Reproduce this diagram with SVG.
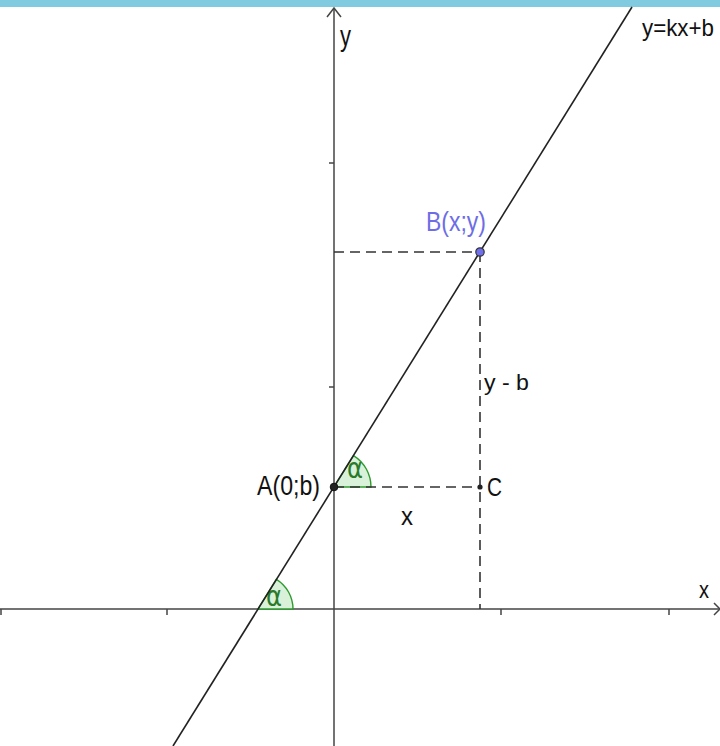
<svg xmlns="http://www.w3.org/2000/svg" width="720" height="746" viewBox="0 0 720 746">
<style>
.axis{stroke:#444;stroke-width:1.5;fill:none}
.tick{stroke:#444;stroke-width:1.5}
.line{stroke:#222;stroke-width:1.6;fill:none}
.dash{stroke:#333;stroke-width:1.6;stroke-dasharray:10 6;fill:none}
.lbl{font-family:"Liberation Sans",Arial,sans-serif;fill:#111}
.angle{fill:#d9f0d9;stroke:#2e9b2e;stroke-width:1.4}
.alpha{font-family:"DejaVu Sans","Liberation Sans",sans-serif;fill:#2a7a2a;font-size:28px}
</style>
<rect x="0" y="0" width="720" height="746" fill="#ffffff"/>
<rect x="0" y="0" width="720" height="7" fill="#80cbe0"/>
<g id="axes">
<line class="axis" x1="0" y1="609" x2="719" y2="609"/>
<polyline class="axis" points="714,603 720,609 714,615"/>
<line class="axis" x1="334" y1="746" x2="334" y2="8"/>
<polyline class="axis" points="327,17 334,8 341,17"/>
<line class="tick" x1="1" y1="609" x2="1" y2="615"/>
<line class="tick" x1="167" y1="609" x2="167" y2="615"/>
<line class="tick" x1="501" y1="609" x2="501" y2="615"/>
<line class="tick" x1="669" y1="609" x2="669" y2="615"/>
<line class="tick" x1="329" y1="163" x2="334" y2="163"/>
<line class="tick" x1="329" y1="387" x2="334" y2="387"/>
<text class="lbl" x="340" y="46" font-size="29" textLength="11" lengthAdjust="spacingAndGlyphs">y</text>
<text class="lbl" x="699" y="598" font-size="24" textLength="10" lengthAdjust="spacingAndGlyphs">x</text>
</g>
<g id="angles">
<path class="angle" d="M334,487 L371,487 A37,37 0 0 0 353.5,455.6 Z"/>
<path class="angle" d="M258,609 L293,609 A35,35 0 0 0 276.4,579.3 Z"/>
<text class="alpha" x="347" y="478" textLength="16" lengthAdjust="spacingAndGlyphs">α</text>
<text class="alpha" x="266" y="606" textLength="16" lengthAdjust="spacingAndGlyphs">α</text>
</g>
<g id="connectors">
<line class="line" x1="632" y1="7" x2="173" y2="746"/>
<line class="dash" x1="334" y1="252" x2="480" y2="252"/>
<line class="dash" x1="480" y1="252" x2="480" y2="609"/>
<line class="dash" x1="334" y1="487" x2="480" y2="487"/>
</g>
<g id="line-label">
<text class="lbl" x="642" y="36" font-size="24" textLength="72" lengthAdjust="spacingAndGlyphs">y=kx+b</text>
</g>
<g id="A">
<circle cx="334" cy="487" r="3.8" fill="#222" stroke="#111" stroke-width="1"/>
<text class="lbl" x="257" y="495" font-size="28" textLength="63" lengthAdjust="spacingAndGlyphs">A(0;b)</text>
</g>
<g id="B">
<circle cx="480" cy="252" r="4.2" fill="#7070ee" stroke="#333" stroke-width="1.2"/>
<text class="lbl" x="426" y="231" font-size="28" textLength="60" lengthAdjust="spacingAndGlyphs" style="fill:#6d6de6">B(x;y)</text>
</g>
<g id="C">
<circle cx="480" cy="487" r="2.6" fill="#222"/>
<text class="lbl" x="487" y="496" font-size="26" textLength="15" lengthAdjust="spacingAndGlyphs">C</text>
</g>
<g id="x-label">
<text class="lbl" x="401" y="525" font-size="26" textLength="12" lengthAdjust="spacingAndGlyphs">x</text>
</g>
<g id="yb-label">
<text class="lbl" x="484" y="390" font-size="22" textLength="45" lengthAdjust="spacingAndGlyphs">y - b</text>
</g>
</svg>
